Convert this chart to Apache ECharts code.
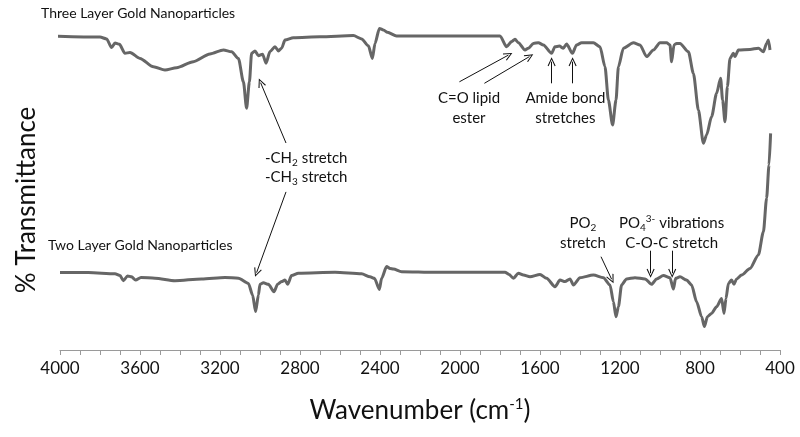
<!DOCTYPE html>
<html>
<head>
<meta charset="utf-8">
<script src="https://cdn.jsdelivr.net/npm/echarts@6/dist/echarts.min.js"></script>
<style>html,body{margin:0;padding:0;background:#fff}#c{width:800px;height:437px}</style>
</head>
<body>
<div id="c"></div>
<script>
// Wavenumbers (cm-1) and % transmittance (offset, arbitrary)
const topWn = [4058,3800,3767,3742,3725,3703,3675,3650,3600,3533,3475,3417,3333,3250,3183,3142,3108,3083,3067,3053,3042,3025,3008,2987,2970,2950,2925,2908,2892,2875,2833,2700,2533,2492,2458,2438,2425,2403,2383,2363,2317,2117,1800,1767,1742,1725,1708,1675,1658,1633,1608,1583,1542,1525,1503,1483,1467,1438,1417,1392,1333,1300,1275,1258,1237,1220,1208,1183,1133,1100,1067,1033,1000,967,950,942,930,917,900,858,833,808,783,767,742,717,697,687,675,663,650,633,625,608,550,508,483,467,458,450];
const topT = [104.7,104.3,103.7,100.8,102.3,101.9,98.9,99.2,97.2,94.4,93.3,94.1,96.1,98.7,100,99.4,97.2,89.4,80.6,89.4,98.9,99.7,98.1,98.6,95.6,99.5,101.1,99.7,100.6,103.3,104.1,104.4,104.8,103.7,101.4,97.2,102.2,107.2,106.7,105.9,104.7,104.7,104.7,101.1,102.8,103.6,102.4,100,100.6,102.2,102.4,101.7,98.9,101.1,101.3,100.6,102,98.9,101.7,102.4,102.4,101.1,94.4,83.3,75,83.3,94.4,100.6,102.4,101.7,97.8,100,102.4,102.4,101.7,96.1,101.7,102.2,102.2,99.4,92.2,80,68.9,71.7,77.8,85.6,90.6,83.3,76.1,87.8,97.2,98.9,97.8,100,100.2,100.6,99.4,102.2,103.3,100];
const botWn = [4000,3858,3725,3700,3683,3662,3642,3622,3595,3525,3425,3292,3175,3108,3058,3037,3022,3008,3000,2983,2958,2930,2912,2892,2875,2862,2842,2808,2625,2492,2450,2428,2403,2392,2367,2350,2333,2292,2125,1875,1775,1755,1733,1708,1683,1650,1600,1567,1525,1500,1475,1450,1433,1400,1333,1283,1250,1233,1220,1208,1192,1167,1125,1075,1042,1017,983,950,933,922,900,867,842,817,792,778,763,742,717,692,680,670,658,642,630,617,592,550,508,483,467,455,447];
const botT = [25.8,25.8,25.4,24.8,23.1,24.7,24.4,23.3,24.2,23.9,23.1,23.7,24.2,23.9,22.2,18.3,12.8,18.3,21.9,22.4,21.9,19.4,21.9,22.8,23.3,21.9,24.8,25.6,25.9,25.4,24.4,23.9,20.2,23.9,27.8,27.2,27,26.1,25.9,25.9,25.9,25.2,23.9,25.6,25,24.4,25.2,23.9,21.1,23.3,22.8,23.7,21.7,24.1,25,24.1,21.7,16.1,11.1,14.4,21.7,23.7,24.1,23.7,21.9,23.7,24.8,24.1,20.3,23.9,24.4,23.3,21.7,16.1,11.1,7.8,11.1,12.2,14.4,17.2,12.2,17.2,22.2,23.3,21.9,23.7,25,27.2,31.7,39.4,50.6,61.7,72.2];

// Annotation arrows: [from, to] in [wavenumber, %T]
const arrowFrom = [[2870,69],[2870,52.7],[2003,89.4],[1878,88.9],[1542,88.9],[1437,88.9],[1295,31.1],[1047,33.1],[939,33.1]];
const arrowTo   = [[2997,89.1],[3017,25.8],[1758,98.3],[1653,97.8],[1542,96.1],[1437,96.1],[1242,23.6],[1047,25.6],[939,25.6]];

// Annotation texts and anchors [wavenumber, %T]
const noteTexts = ['Three Layer Gold Nanoparticles','Two Layer Gold Nanoparticles','-CH{sub|2} stretch','-CH{sub|3} stretch','C=O lipid','ester','Amide bond','stretches','PO{sub|2}','stretch','PO{sub|4}{sup|3-} vibrations','C-O-C stretch'];
const noteAnchors = [[4095,112.3],[4060,34.7],[2975,64],[2975,57.7],[1955,84],[1955,77.3],[1473,84],[1473,77.3],[1385,42.3],[1385,35.7],[942,42.3],[942,35.7]];
const noteAlign = ['left','left','left','left','center','center','center','center','center','center','center','center'];

const FONT = 'Lato, "Open Sans", sans-serif';
const chart = echarts.init(document.getElementById('c'));
const lineColor = '#666666';

const mk = (wn, t) => wn.map((w, i) => [w, t[i]]);
const arrowPath = 'path://M0,10 L5,0 L10,10 L8.8,10.6 L5,2.6 L1.2,10.6 Z';

chart.setOption({
  animation: false,
  backgroundColor: '#fff',
  grid: { left: 60, right: 20, top: 50, bottom: 87 },
  xAxis: {
    type: 'value', min: 400, max: 4000, interval: 100, inverse: true,
    axisLine: { lineStyle: { color: '#9a9a9a', width: 1 } },
    axisTick: { show: true, length: 5, lineStyle: { color: '#9a9a9a' } },
    splitLine: { show: false },
    axisLabel: { color: '#111', fontSize: 17, fontFamily: FONT, margin: 10,
      formatter: v => (v % 400 === 0 ? String(v) : '') },
    name: 'Wavenumber (cm{sup|-1})', nameLocation: 'middle', nameGap: 47,
    nameTextStyle: { color: '#111', fontSize: 26, fontFamily: FONT,
      rich: { sup: { fontSize: 15, fontFamily: FONT, color: '#111', padding: [0, 0, 12, 0] } } }
  },
  yAxis: {
    type: 'value', min: 0, max: 100,
    axisLine: { show: false }, axisTick: { show: false }, axisLabel: { show: false }, splitLine: { show: false },
    name: '% Transmittance', nameLocation: 'middle', nameRotate: 90, nameGap: 20,
    nameTextStyle: { color: '#111', fontSize: 26, fontFamily: FONT }
  },
  series: [
    { type: 'line', data: mk(topWn, topT), showSymbol: false, clip: false, smooth: 0.25, smoothMonotone: 'x',
      lineStyle: { color: lineColor, width: 3 }, itemStyle: { color: lineColor } },
    { type: 'line', data: mk(botWn, botT), showSymbol: false, clip: false, smooth: 0.25, smoothMonotone: 'x',
      lineStyle: { color: lineColor, width: 3 }, itemStyle: { color: lineColor },
      markLine: {
        silent: true, animation: false,
        symbol: ['none', arrowPath], symbolSize: [8, 9],
        label: { show: false },
        lineStyle: { color: '#111', width: 1, type: 'solid' },
        data: arrowFrom.map((f, i) => [{ coord: f }, { coord: arrowTo[i] }])
      } }
  ]
});

const rich = {
  sub: { fontSize: 10, fontFamily: FONT, fill: '#111', padding: [9, 0, 0, 0] },
  sup: { fontSize: 10, fontFamily: FONT, fill: '#111', padding: [0, 0, 9, 0] }
};
const graphics = noteTexts.map((t, i) => {
  const p = chart.convertToPixel({ gridIndex: 0 }, noteAnchors[i]);
  const isTitle = i < 2;
  return {
    type: 'text', x: p[0], y: p[1], silent: true,
    style: { text: t, fill: '#111', fontSize: isTitle ? 14 : 15, fontFamily: FONT,
      align: noteAlign[i], verticalAlign: 'middle', rich: rich }
  };
});
chart.setOption({ graphic: graphics });
</script>
</body>
</html>
